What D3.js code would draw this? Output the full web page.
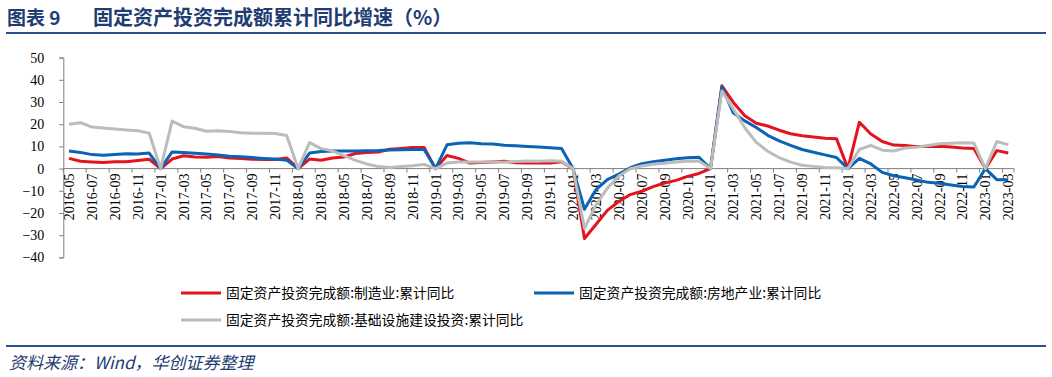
<!DOCTYPE html>
<html><head><meta charset="utf-8">
<script src="https://cdn.jsdelivr.net/npm/d3@7"></script>
<style>
html,body{margin:0;padding:0;background:#fff;}
svg{display:block;}
</style></head>
<body>
<script>
const months = [
"2016-05","2016-06","2016-07","2016-08","2016-09","2016-10","2016-11","2016-12",
"2017-01","2017-02","2017-03","2017-04","2017-05","2017-06","2017-07","2017-08","2017-09","2017-10","2017-11","2017-12",
"2018-01","2018-02","2018-03","2018-04","2018-05","2018-06","2018-07","2018-08","2018-09","2018-10","2018-11","2018-12",
"2019-01","2019-02","2019-03","2019-04","2019-05","2019-06","2019-07","2019-08","2019-09","2019-10","2019-11","2019-12",
"2020-01","2020-02","2020-03","2020-04","2020-05","2020-06","2020-07","2020-08","2020-09","2020-10","2020-11","2020-12",
"2021-01","2021-02","2021-03","2021-04","2021-05","2021-06","2021-07","2021-08","2021-09","2021-10","2021-11","2021-12",
"2022-01","2022-02","2022-03","2022-04","2022-05","2022-06","2022-07","2022-08","2022-09","2022-10","2022-11","2022-12",
"2023-01","2023-02","2023-03"];

const manufacturing = [
4.6,3.3,3.0,2.8,3.1,3.1,3.6,4.2,
0,4.3,5.8,5.2,5.1,5.5,4.8,4.5,4.2,4.1,4.1,4.8,
0,4.3,3.8,4.8,5.2,6.8,7.3,7.5,8.7,9.1,9.5,9.5,
0,5.9,4.6,2.5,2.7,3.0,3.3,2.6,2.5,2.6,2.5,3.1,
0,-31.5,-25.2,-18.8,-14.8,-11.7,-10.2,-8.1,-6.5,-5.3,-3.5,-2.2,
0,37.3,29.8,23.8,20.4,19.2,17.3,15.7,14.8,14.2,13.7,13.5,
0,20.9,15.6,12.2,10.6,10.4,9.9,10.0,10.1,9.7,9.3,9.1,
0,8.1,7.0];

const realEstate = [
7.9,7.3,6.3,6.0,6.3,6.7,6.6,7.0,
0,7.5,7.2,6.9,6.6,6.1,5.6,5.3,5.0,4.6,4.3,3.8,
0,7.0,7.7,7.9,7.9,7.9,8.0,8.1,8.4,8.5,8.6,8.6,
0,10.7,11.4,11.6,11.2,11.1,10.5,10.3,10.0,9.7,9.4,9.0,
0,-18.3,-9.5,-5.0,-2.5,0.4,2.2,3.1,3.8,4.4,4.9,5.1,
0,36.8,25.0,21.5,18.5,15.0,12.5,10.5,8.6,7.4,6.2,5.0,
0,4.6,2.1,-1.7,-3.2,-4.1,-5.1,-6.2,-6.6,-7.4,-8.1,-8.3,
0,-5.0,-5.0];

const infrastructure = [
20.0,20.7,18.7,18.3,17.8,17.4,17.1,15.9,
0,21.4,18.9,18.2,16.8,17.0,16.7,16.2,15.9,15.9,15.8,14.9,
0,11.7,9.0,8.0,5.8,3.7,2.1,0.9,0.5,1.0,1.3,1.9,
0,2.5,3.0,3.0,3.0,3.0,2.9,3.2,3.4,3.3,3.5,3.3,
0,-26.9,-16.4,-8.8,-3.3,-0.1,1.2,2.0,2.4,3.0,3.3,3.4,
0,35.0,26.8,18.4,11.8,7.8,4.9,2.9,1.5,1.0,0.5,0.4,
0,8.6,10.5,8.3,7.9,9.3,9.6,10.4,11.2,11.4,11.6,11.5,
0,12.2,10.8];

const yTicks = [50,40,30,20,10,0,-10,-20,-30,-40];
const seriesNames = ["固定资产投资完成额:制造业:累计同比","固定资产投资完成额:房地产业:累计同比","固定资产投资完成额:基础设施建设投资:累计同比"];
const seriesColors = ["#e3141e","#0a63b5","#bcbcbc"];
const titleLabel = "图表 9";
const titleText = "固定资产投资完成额累计同比增速（%）";
const sourceText = "资料来源：Wind，华创证券整理";

const W = 1052, H = 377;
const svg = d3.select("body").append("svg").attr("width", W).attr("height", H);

// header
svg.append("text").attr("x", 7).attr("y", 25).text(titleLabel)
  .attr("font-family", "'Noto Sans CJK SC', sans-serif").attr("font-weight", "bold")
  .attr("font-size", 19).attr("fill", "#1f3c73");
svg.append("text").attr("x", 93).attr("y", 25).text(titleText)
  .attr("font-family", "'Noto Sans CJK SC', sans-serif").attr("font-weight", "bold")
  .attr("font-size", 20).attr("fill", "#1f3c73");
svg.append("line").attr("x1", 6).attr("x2", 1046).attr("y1", 33).attr("y2", 33)
  .attr("stroke", "#2a4f8f").attr("stroke-width", 2);

// footer
svg.append("line").attr("x1", 6).attr("x2", 1046).attr("y1", 346).attr("y2", 346)
  .attr("stroke", "#2a4f8f").attr("stroke-width", 2);
svg.append("text").attr("x", 9).attr("y", 369).text(sourceText)
  .attr("font-family", "'Noto Sans CJK SC', sans-serif").attr("font-style", "italic")
  .attr("font-size", 17).attr("fill", "#1f3c73");

// scales
const x = d3.scaleBand().domain(months).range([63.3, 1014]).paddingInner(0).paddingOuter(0);
const y = d3.scaleLinear().domain([-40, 50]).range([257.4, 57.6]);
const cx = d => x(d) + x.bandwidth() / 2;

// y axis
const yAxis = d3.axisLeft(y).tickValues(yTicks).tickSize(4).tickFormat(d3.format("d"));
const gy = svg.append("g").attr("transform", "translate(63.3,0)").call(yAxis);
gy.select(".domain").attr("stroke", "#7f7f7f").attr("stroke-width", 1);
gy.selectAll(".tick line").attr("stroke", "#7f7f7f");
gy.selectAll(".tick text").attr("x", -19).attr("font-family", "'Liberation Serif', 'Times New Roman', serif")
  .attr("font-size", 14).attr("fill", "#000");

// x axis at zero
const labeled = months.filter((m, i) => i % 2 === 0);
const gx = svg.append("g").attr("transform", `translate(0,${y(0)})`);
gx.append("line").attr("x1", 63.3).attr("x2", 1014).attr("y1", 0).attr("y2", 0)
  .attr("stroke", "#7f7f7f").attr("stroke-width", 1);
gx.selectAll("line.tk").data(labeled).enter().append("line").attr("class", "tk")
  .attr("x1", d => x(d)).attr("x2", d => x(d)).attr("y1", 0).attr("y2", 4)
  .attr("stroke", "#7f7f7f");
gx.append("line").attr("x1", 1014).attr("x2", 1014).attr("y1", 0).attr("y2", 4).attr("stroke", "#7f7f7f");
gx.selectAll("text").data(labeled).enter().append("text")
  .attr("transform", d => `translate(${cx(d)+5},5) rotate(-90)`)
  .attr("text-anchor", "end")
  .attr("font-family", "'Liberation Serif', 'Times New Roman', serif")
  .attr("font-size", 14).attr("fill", "#000").text(d => d);

// lines
const allSeries = [manufacturing, realEstate, infrastructure];
const line = d3.line().x((d, i) => cx(months[i])).y(d => y(d));
allSeries.forEach((s, k) => {
  svg.append("path").datum(s).attr("d", line).attr("fill", "none")
    .attr("stroke", seriesColors[k]).attr("stroke-width", 3)
    .attr("stroke-linejoin", "round");
});

// legend
const legendPos = [[181, 293], [534, 293], [181, 320]];
seriesNames.forEach((n, k) => {
  const [lx, ly] = legendPos[k];
  svg.append("line").attr("x1", lx).attr("x2", lx + 40).attr("y1", ly).attr("y2", ly)
    .attr("stroke", seriesColors[k]).attr("stroke-width", 3);
  svg.append("text").attr("x", lx + 45).attr("y", ly + 5).text(n)
    .attr("font-family", "'Noto Sans CJK SC', sans-serif").attr("font-size", 13.8).attr("fill", "#000");
});
</script>
</body></html>
